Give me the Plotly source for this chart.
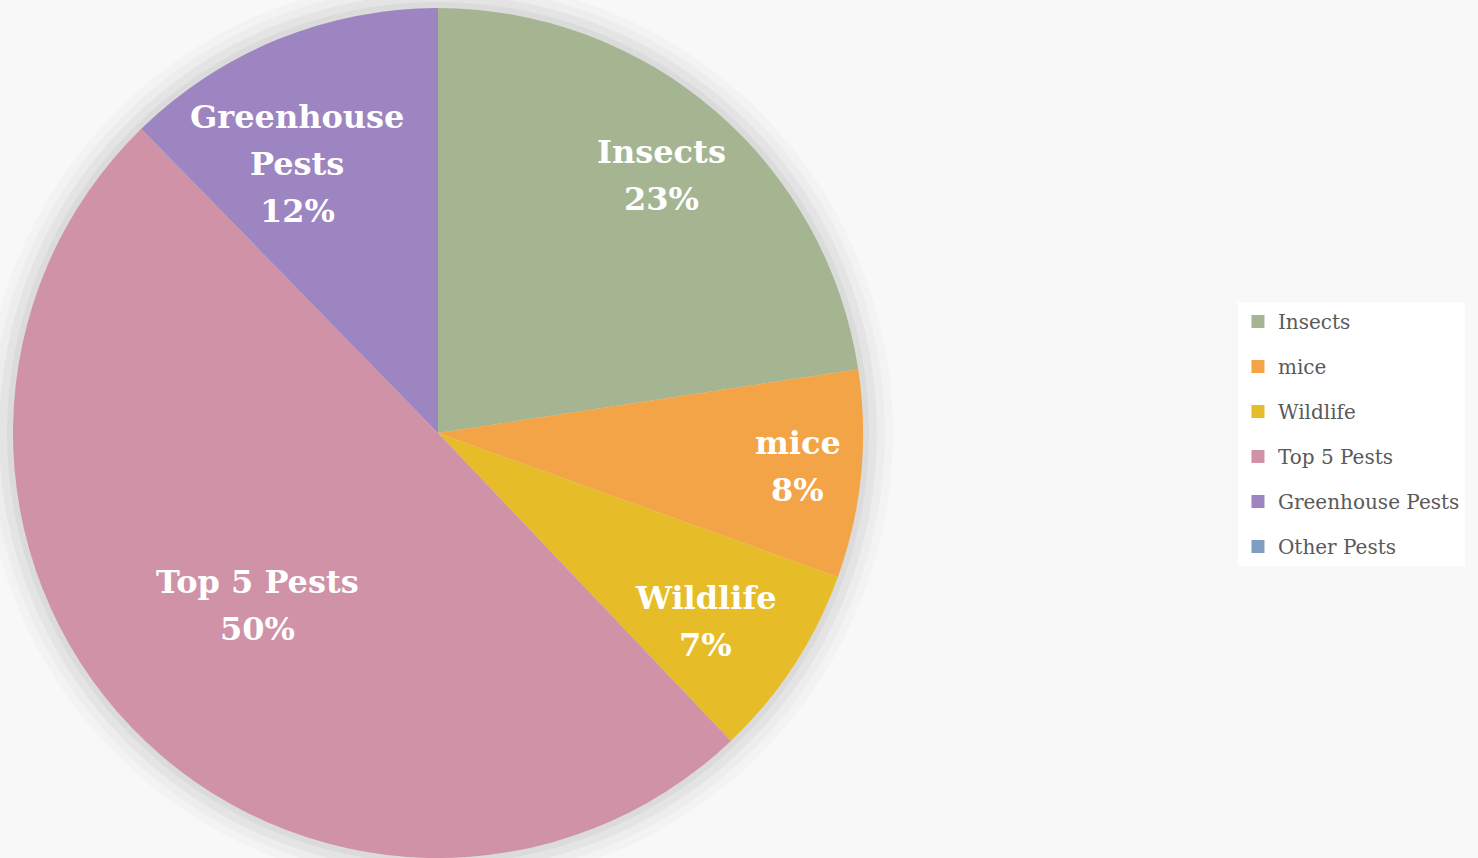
import math
import plotly.graph_objects as go

labels = ["Insects", "mice", "Wildlife", "Top 5 Pests", "Greenhouse Pests", "Other Pests"]
text_lines = [["Insects"], ["mice"], ["Wildlife"], ["Top 5 Pests"], ["Greenhouse", "Pests"], ["Other Pests"]]
values = [22.6, 7.9, 7.4, 49.8, 12.3, 0.0]
colors = ["#a5b592", "#f3a447", "#e7bc29", "#d092a7", "#9c85c0", "#809ec2"]

# label placement (fraction of radius from centre, pixel nudges) - style only
label_radius = [0.80, 0.85, 0.78, 0.59, 0.71, 0.7]
label_nudge = [(2, 0), (0, -2), (-10, 7), (0, -1), (-27, 11), (0, 0)]
LINE_PITCH = 47

W, H = 1478, 858
FONT = "DejaVu Serif"
CX, CY, R = 438, 433, 425  # pie centre / radius in pixels (layout only)

fig = go.Figure()

fig.add_trace(go.Pie(
    labels=labels,
    values=values,
    sort=False,
    direction="clockwise",
    rotation=0,
    marker=dict(colors=colors, line=dict(width=0)),
    textinfo="none",
    domain=dict(x=[(CX - R) / W, (CX + R) / W], y=[1 - (CY + R) / H, 1 - (CY - R) / H]),
    showlegend=False,
    hoverinfo="label+percent",
))

# legend entries
for lab, col in zip(labels, colors):
    fig.add_trace(go.Scatter(
        x=[None], y=[None], mode="markers", name=lab, legendgroup=lab,
        marker=dict(symbol="square", size=13, color=col),
    ))

# data labels placed at each slice's mid-angle
total = sum(values)
annotations = []
cum = 0.0
for lines, v, rf, (dx, dy) in zip(text_lines, values, label_radius, label_nudge):
    if v > 0:
        mid = (cum + v / 2) / total * 2 * math.pi
        px = CX + rf * R * math.sin(mid) + dx
        py = CY - rf * R * math.cos(mid) + dy
        all_lines = lines + [f"{round(v / total * 100)}%"]
        n = len(all_lines)
        for i, ln in enumerate(all_lines):
            annotations.append(dict(
                x=px / W, y=1 - py / H, xref="paper", yref="paper",
                yshift=((n - 1) / 2 - i) * LINE_PITCH,
                text=ln, showarrow=False,
                font=dict(family=FONT, size=32, color="white", weight="bold"),
                xanchor="center", yanchor="middle", align="center",
            ))
    cum += v

# soft shadow halo behind the pie
shapes = []
for grow, op in [(30, 0.02), (22, 0.025), (14, 0.035), (6, 0.04)]:
    r = R + grow
    shapes.append(dict(
        type="circle", xref="paper", yref="paper", layer="below",
        x0=(CX - r) / W, x1=(CX + r) / W, y0=1 - (CY + r) / H, y1=1 - (CY - r) / H,
        fillcolor=f"rgba(0,0,0,{op})", line=dict(width=0),
    ))

fig.update_layout(
    width=W, height=H,
    margin=dict(l=0, r=0, t=0, b=0),
    paper_bgcolor="#f8f8f8",
    plot_bgcolor="rgba(0,0,0,0)",
    xaxis=dict(visible=False),
    yaxis=dict(visible=False),
    shapes=shapes,
    annotations=annotations,
    legend=dict(
        x=0.8376, y=0.648, xanchor="left", yanchor="top",
        bgcolor="white",
        font=dict(family=FONT, size=20, color="#595959"),
        tracegroupgap=16,
        itemwidth=30,
    ),
    showlegend=True,
)

fig.write_html("out.html", config={"displayModeBar": False},
               post_script="document.body.style.margin='0';document.body.style.overflow='hidden';")
